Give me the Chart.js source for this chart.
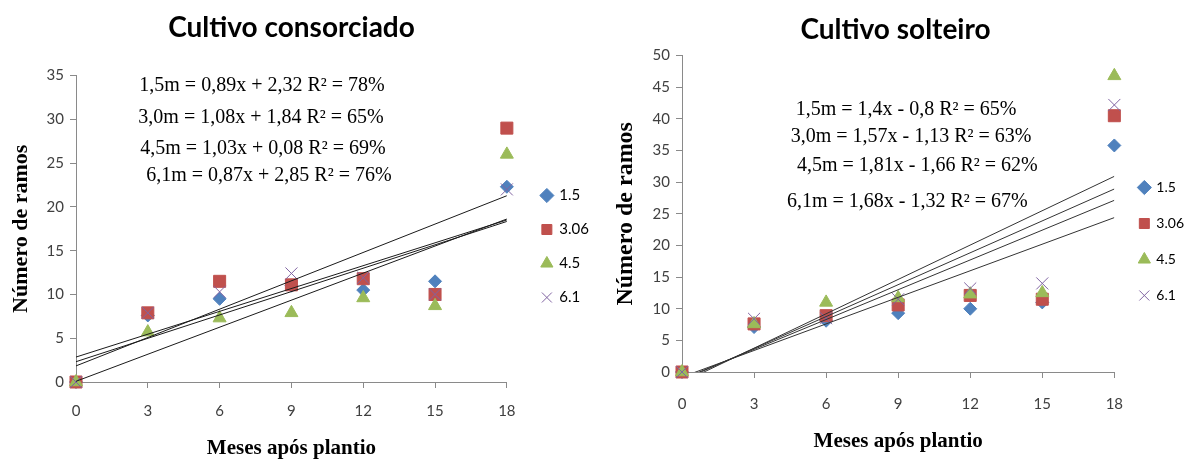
<!DOCTYPE html>
<html>
<head>
<meta charset="utf-8">
<script src="https://cdn.jsdelivr.net/npm/chart.js@4.4.1/dist/chart.umd.min.js"></script>
<style>
  html, body { margin: 0; padding: 0; background: #fff; }
  #wrap { position: relative; width: 1184px; height: 461px; overflow: hidden; }
  .panel { position: absolute; top: 0; }
</style>
</head>
<body>
<div id="wrap">
  <div class="panel" style="left:0"><canvas id="chartConsorc" width="600" height="461"></canvas></div>
  <div class="panel" style="left:600px"><canvas id="chartSolt" width="591" height="461"></canvas></div>
</div>
<script>
// Months after planting (x values shared by both panels)
const months = [0, 3, 6, 9, 12, 15, 18];
const seriesNames = ['1.5', '3.06', '4.5', '6.1'];
const spacingNames = ['1,5', '3,0', '4,5', '6,1'];

// Cultivo consorciado: number of branches per spacing
const consorc15  = [0, 7.6, 9.5, 11.0, 10.5, 11.5, 22.3];
const consorc306 = [0, 7.9, 11.5, 11.1, 11.8, 10.0, 29.0];
const consorc45  = [0, 5.7, 7.3, 7.9, 9.6, 8.7, 26.0];
const consorc61  = [0, 7.9, 10.3, 12.4, 11.9, 10.0, 22.0];
const consorcSlope = [0.89, 1.08, 1.03, 0.87];
const consorcIntercept = [2.32, 1.84, 0.08, 2.85];
const consorcR2 = [78, 65, 69, 76];

// Cultivo solteiro: number of branches per spacing
const solt15  = [0, 7.1, 8.1, 9.3, 10.0, 11.0, 35.8];
const solt306 = [0, 7.6, 8.9, 10.6, 12.1, 11.5, 40.5];
const solt45  = [0, 7.6, 11.0, 11.7, 12.3, 12.5, 46.8];
const solt61  = [0, 8.4, 8.5, 11.5, 13.2, 14.0, 42.2];
const soltSlope = [1.4, 1.57, 1.81, 1.68];
const soltIntercept = [-0.8, -1.13, -1.66, -1.32];
const soltR2 = [65, 63, 62, 67];

// Axis ranges / tick steps
const xTickStep = 3;
const consorcYMax = 35, soltYMax = 50, yTickStep = 5;

const markerStyles = [
  { pointStyle: 'rectRot',  color: '#4F81BD', radius: 6.5 },
  { pointStyle: 'rect',     color: '#C0504D', radius: 8.5 },
  { pointStyle: 'triangle', color: '#9BBB59', radius: 7.5 },
  { pointStyle: 'crossRot', color: '#8064A2', radius: 8.5 }
];

const fmt = v => String(v).replace('.', ',');
function equationText(i, slope, intercept, r2) {
  const sign = intercept[i] < 0 ? ' - ' : ' + ';
  return spacingNames[i] + 'm = ' + fmt(slope[i]) + 'x' + sign + fmt(Math.abs(intercept[i])) + ' R\u00B2 = ' + r2[i] + '%';
}

// Writes the regression equations inside the plot area
const equationLabels = {
  id: 'equationLabels',
  afterDatasetsDraw(chart, args, opts) {
    const { ctx, scales: { x, y } } = chart;
    ctx.save();
    ctx.font = opts.font;
    ctx.fillStyle = '#000';
    ctx.textAlign = 'center';
    ctx.textBaseline = 'middle';
    opts.items.forEach(it => ctx.fillText(it.text, x.getPixelForValue(it.x), y.getPixelForValue(it.y)));
    ctx.restore();
  }
};

// Nudges the legend block after layout
const legendShift = {
  id: 'legendShift',
  afterLayout(chart, args, opts) {
    const lg = chart.legend;
    if (!lg) return;
    lg.left += opts.dx; lg.right += opts.dx;
    lg.top += opts.dy; lg.bottom += opts.dy;
  }
};

function buildChart(canvasId, cfg) {
  const scatterSets = cfg.series.map((vals, i) => ({
    type: 'scatter',
    label: seriesNames[i],
    data: months.map((m, k) => ({ x: m, y: vals[k] })),
    pointStyle: markerStyles[i].pointStyle,
    backgroundColor: markerStyles[i].color,
    borderColor: markerStyles[i].color,
    borderWidth: 1,
    pointRadius: markerStyles[i].radius,
    pointHoverRadius: markerStyles[i].radius,
    clip: false,
    order: 10 - i
  }));
  const trendSets = cfg.slope.map((m, i) => ({
    type: 'line',
    label: 'trend ' + seriesNames[i],
    isTrend: true,
    data: [0, months[months.length - 1]].map(x => ({ x, y: m * x + cfg.intercept[i] })),
    borderColor: cfg.trendColor,
    borderWidth: 1,
    pointRadius: 0,
    fill: false,
    order: 1
  }));

  return new Chart(document.getElementById(canvasId), {
    type: 'scatter',
    data: { datasets: scatterSets.concat(trendSets) },
    plugins: [equationLabels, legendShift],
    options: {
      responsive: false,
      animation: false,
      devicePixelRatio: 1,
      layout: { padding: { left: 0, right: cfg.padRight, top: 0, bottom: 0 } },
      scales: {
        x: {
          type: 'linear',
          min: 0, max: months[months.length - 1],
          afterFit: s => { s.height = cfg.xAxisHeight; },
          ticks: { stepSize: xTickStep, padding: cfg.xTickPad, color: '#404040', font: { family: 'Lato', size: 15 } },
          grid: { drawOnChartArea: false, drawTicks: true, tickLength: 6, color: '#8a8a8a' },
          border: { color: '#8a8a8a', width: 1 },
          title: {
            display: true, text: 'Meses após plantio', color: '#000',
            font: { family: 'Liberation Serif', size: 21, weight: 'bold' },
            padding: { top: 0, bottom: cfg.xTitlePad }
          }
        },
        y: {
          min: 0, max: cfg.yMax,
          afterFit: s => { s.width = cfg.yAxisWidth; },
          ticks: { stepSize: yTickStep, padding: 6, color: '#404040', font: { family: 'Lato', size: 15 } },
          grid: { drawOnChartArea: false, drawTicks: true, tickLength: 6, color: '#8a8a8a' },
          border: { color: '#8a8a8a', width: 1 },
          title: {
            display: true, text: 'Número de ramos', color: '#000',
            font: { family: 'Liberation Serif', size: cfg.yTitleSize, weight: 'bold' },
            padding: { top: cfg.yTitlePad, bottom: 0 }
          }
        }
      },
      plugins: {
        title: {
          display: true, text: cfg.title, color: '#000',
          font: { family: 'Lato', size: 28, weight: 'bold' },
          padding: { top: cfg.titlePadTop, bottom: cfg.titlePadBottom }
        },
        legend: {
          position: 'right',
          labels: {
            usePointStyle: true,
            boxWidth: 10, boxHeight: 10,
            padding: cfg.legendPad,
            color: '#000',
            font: { family: 'Lato', size: cfg.legendFont },
            filter: (item, data) => !data.datasets[item.datasetIndex].isTrend,
            sort: (a, b) => a.datasetIndex - b.datasetIndex
          }
        },
        legendShift: { dx: cfg.legendDx, dy: cfg.legendDy },
        tooltip: { enabled: false },
        equationLabels: {
          font: '20px "Liberation Serif"',
          items: cfg.eqPos.map((p, i) => ({ text: equationText(i, cfg.slope, cfg.intercept, cfg.r2), x: p[0], y: p[1] }))
        }
      }
    }
  });
}

buildChart('chartConsorc', {
  title: 'Cultivo consorciado',
  series: [consorc15, consorc306, consorc45, consorc61],
  slope: consorcSlope, intercept: consorcIntercept, r2: consorcR2,
  yMax: consorcYMax,
  trendColor: '#1a1a1a',
  padRight: 17,
  xAxisHeight: 79, xTickPad: 14, xTitlePad: 0,
  yAxisWidth: 76, yTitleSize: 22, yTitlePad: 8,
  titlePadTop: 11, titlePadBottom: 31,
  legendPad: 19, legendFont: 15, legendDx: 16, legendDy: 16,
  eqPos: [[7.77, 33.8], [7.73, 30.2], [7.81, 26.6], [8.06, 23.6]]
});

buildChart('chartSolt', {
  title: 'Cultivo solteiro',
  series: [solt15, solt306, solt45, solt61],
  slope: soltSlope, intercept: soltIntercept, r2: soltR2,
  yMax: soltYMax,
  trendColor: '#333333',
  padRight: 0,
  xAxisHeight: 89, xTickPad: 17, xTitlePad: 7,
  yAxisWidth: 82, yTitleSize: 24, yTitlePad: 11,
  titlePadTop: 13, titlePadBottom: 9,
  legendPad: 22, legendFont: 14, legendDx: 3, legendDy: 11,
  eqPos: [[9.33, 41.5], [9.54, 37.2], [9.80, 32.6], [9.38, 26.9]]
});
</script>
</body>
</html>
